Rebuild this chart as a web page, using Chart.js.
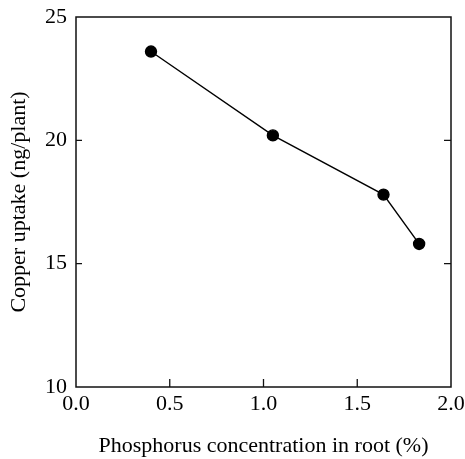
<!DOCTYPE html>
<html>
<head>
<meta charset="utf-8">
<script src="https://cdn.jsdelivr.net/npm/chart.js@4"></script>
<style>
  html, body { margin: 0; padding: 0; background: #fff; }
  #wrap { width: 465px; height: 459px; }
</style>
</head>
<body>
<div id="wrap"><canvas id="chart" width="465" height="459"></canvas></div>
<script>
// values
const phosphorus = [0.40, 1.05, 1.64, 1.83];
const copperUptake = [23.6, 20.2, 17.8, 15.8];
const xTicks = [0.0, 0.5, 1.0, 1.5, 2.0];
const yTicks = [10, 15, 20, 25];
const xTitle = 'Phosphorus concentration in root (%)';
const yTitle = 'Copper uptake (ng/plant)';

const serif = '"Liberation Serif", "Times New Roman", serif';

// frame + inward ticks, drawn from the scales
const framePlugin = {
    id: 'frame',
    afterDraw(chart) {
        const {ctx, chartArea: a, scales: {x, y}} = chart;
        ctx.save();
        ctx.strokeStyle = '#111';
        ctx.lineWidth = 1.5;
        ctx.strokeRect(a.left, a.top, a.right - a.left, a.bottom - a.top);
        ctx.lineWidth = 1.3;
        ctx.beginPath();
        xTicks.slice(1, -1).forEach(v => {
            const px = x.getPixelForValue(v);
            ctx.moveTo(px, a.bottom);
            ctx.lineTo(px, a.bottom - 8);
        });
        yTicks.slice(1, -1).forEach(v => {
            const py = y.getPixelForValue(v);
            ctx.moveTo(a.left, py);
            ctx.lineTo(a.left + 6, py);
            ctx.moveTo(a.right, py);
            ctx.lineTo(a.right - 7, py);
        });
        ctx.stroke();
        ctx.restore();
    }
};

const ctx = document.getElementById('chart').getContext('2d');
new Chart(ctx, {
    type: 'scatter',
    data: {
        datasets: [{
            data: phosphorus.map((p, i) => ({x: p, y: copperUptake[i]})),
            showLine: true,
            borderColor: '#000',
            backgroundColor: '#000',
            borderWidth: 1.4,
            pointRadius: 5.5,
            pointHoverRadius: 5.5
        }]
    },
    options: {
        responsive: false,
        animation: false,
        layout: {padding: {top: 17, right: 14, left: 0, bottom: 0}},
        plugins: {legend: {display: false}, tooltip: {enabled: false}},
        scales: {
            x: {
                type: 'linear',
                min: 0, max: 2,
                afterBuildTicks: s => { s.ticks = xTicks.map(v => ({value: v})); },
                afterFit: s => {
                    s.height = 459 - 387;
                    s.paddingLeft = 0;
                    s.paddingRight = 0;
                },
                grid: {display: false, drawTicks: false},
                border: {display: false},
                ticks: {
                    padding: 4,
                    color: '#000',
                    font: {family: serif, size: 22},
                    callback: v => Number(v).toFixed(1)
                },
                title: {
                    display: true,
                    text: xTitle,
                    color: '#000',
                    font: {family: serif, size: 22},
                    padding: {top: 10, bottom: 0}
                }
            },
            y: {
                min: 10, max: 25,
                afterBuildTicks: s => { s.ticks = yTicks.map(v => ({value: v})); },
                afterFit: s => {
                    s.width = 76;
                    s.paddingTop = 0;
                    s.paddingBottom = 0;
                },
                grid: {display: false, drawTicks: false},
                border: {display: false},
                ticks: {
                    padding: 9,
                    color: '#000',
                    font: {family: serif, size: 22}
                },
                title: {
                    display: true,
                    text: yTitle,
                    color: '#000',
                    font: {family: serif, size: 22},
                    padding: {top: 6, bottom: 0}
                }
            }
        }
    },
    plugins: [framePlugin]
});
</script>
</body>
</html>
